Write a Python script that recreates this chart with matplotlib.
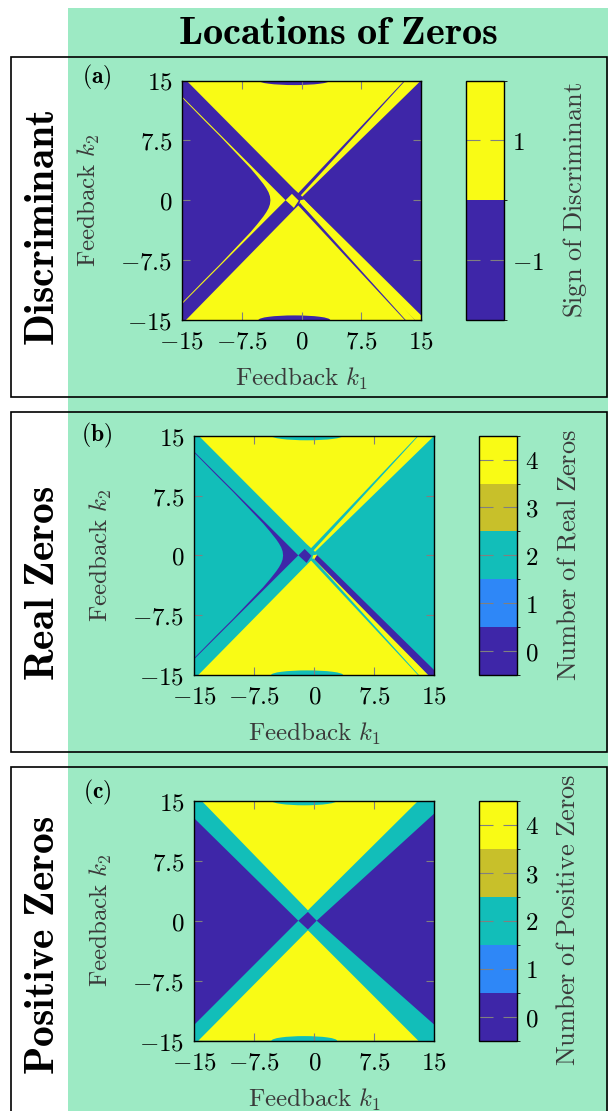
import matplotlib
matplotlib.use('Agg')
import matplotlib.pyplot as plt
import matplotlib.cm as cm
from matplotlib.colors import ListedColormap, BoundaryNorm
from matplotlib.patches import Polygon, Ellipse, Rectangle

plt.rcParams['mathtext.fontset'] = 'cm'

W, H = 608, 1111

# parula colours for 0..4 zeros, and for the sign of the discriminant
zero_colors = ['#3e26a8', '#2e87f7', '#12beb9', '#c8c02a', '#f9fb15']
sign_colors = ['#3e26a8', '#f9fb15']
green = '#9deac4'

ticks = [-15, -7.5, 0, 7.5, 15]
tick_labels = ['$-15$', '$-7.5$', '$0$', '$7.5$', '$15$']

# ---- number of real zeros (panel b); panel a shows the sign of the discriminant ----
real_background = 2
real_top = [(-14.45, 15), (15, 15), (0.1, 0.45), (-0.96, 1.42)]
real_bottom = [(-14.5, -15), (-0.96, -1.2), (-0.3, -0.55), (-0.15, 0.0), (0.3, 0.1), (14.25, -15)]
real_sliver_up = [(-0.5, 0.8), (12.92, 15), (13.05, 15), (-0.2, 0.5)]
real_sliver_low = [(-0.45, -0.6), (12.95, -15), (13.08, -15), (-0.15, -0.35)]
real_band = [(0.35, 0.05), (15, -14.4), (15, -15), (14.25, -15), (0.0, -0.5)]
# upper branch of the curved boundary on the left, from the edge to its vertex
hyper_upper = [(-15.0, 12.86), (-12.2, 10.0), (-10.2, 8.0), (-8.3, 6.0), (-6.4, 4.0),
               (-5.55, 3.0), (-4.76, 2.0), (-4.42, 1.5), (-4.14, 1.0), (-3.96, 0.5), (-3.9, 0.0)]
crescent_tip = [(-15, 13.0), (-2.0, 0.0), (-15, -13.0)]
real_crescent = crescent_tip + [(x, -y) for x, y in hyper_upper] + hyper_upper[::-1]
real_diamond = [(-2.0, 0.0), (-1.2, 0.8), (-0.35, -0.05), (-0.96, -0.95)]
real_regions = [(4, real_top), (4, real_bottom), (2, real_sliver_up), (2, real_sliver_low),
                (0, real_band), (0, real_crescent), (0, real_diamond)]
real_caps = [(2, (-0.9, 15), 9.0, 1.15), (2, (-0.9, -15), 9.0, 1.15)]

# sign of the discriminant for each number of real zeros
disc_sign = {0: 1, 2: -1, 4: 1}

# ---- number of positive zeros (panel c) ----
pos_background = 2
pos_left = [(-15, 12.8), (-2.0, 0.0), (-15, -13.0)]
pos_right = [(15, 13.4), (0.3, 0.0), (15, -13.0)]
pos_diamond = [(-2.0, 0.0), (-0.8, 1.1), (0.3, 0.0), (-0.8, -1.1)]
pos_top = [(-14.1, 15), (-0.8, 1.3), (13.0, 15)]
pos_bottom = [(-14.5, -15), (-0.8, -1.2), (13.0, -15)]
pos_regions = [(0, pos_left), (0, pos_right), (0, pos_diamond), (4, pos_top), (4, pos_bottom)]
pos_caps = [(2, (-1.25, 15), 8.2, 1.15), (2, (-1.25, -15), 8.2, 1.15)]


def px_axes(fig, l, t, r, b):
    return fig.add_axes([l / W, 1 - b / H, (r - l) / W, (b - t) / H])


def draw_map(ax, background, regions, caps, color_of):
    ax.add_patch(Rectangle((-15, -15), 30, 30, fc=color_of(background), ec='none'))
    for val, pts in regions:
        ax.add_patch(Polygon(pts, closed=True, fc=color_of(val), ec='none', lw=0))
    for val, centre, w, h in caps:
        ax.add_patch(Ellipse(centre, w, h, fc=color_of(val), ec='none'))
    ax.set_xlim(-15, 15)
    ax.set_ylim(-15, 15)
    ax.set_xticks(ticks, labels=tick_labels)
    ax.set_yticks(ticks, labels=tick_labels)
    ax.tick_params(direction='in', top=True, right=True, length=6, width=0.8,
                   color='#808080', labelsize=18, pad=7)
    for s in ax.spines.values():
        s.set_linewidth(1.0)
    ax.set_xlabel(r'$\mathrm{Feedback}\ k_1$', fontsize=18, color='#3a3a3a')
    ax.set_ylabel(r'$\mathrm{Feedback}\ k_2$', fontsize=18, color='#3a3a3a')
    ax.xaxis.label.set_verticalalignment('center')
    ax.yaxis.label.set_verticalalignment('center')
    ax.xaxis.set_label_coords(0.5, -0.245)
    ax.yaxis.set_label_coords(-0.39, 0.5)


def add_cbar(fig, cax, colors, bounds, cticks, clabels, title, tx, ty):
    cmap = ListedColormap(colors)
    norm = BoundaryNorm(bounds, cmap.N)
    cb = fig.colorbar(cm.ScalarMappable(norm=norm, cmap=cmap), cax=cax, ticks=cticks)
    cax.set_yticklabels(clabels)
    cax.tick_params(direction='in', left=True, right=True, length=10, width=0.8,
                    color='#808080', labelsize=18, pad=6)
    cb.outline.set_linewidth(1.0)
    fig.text(tx / W, 1 - ty / H, title, rotation=90, ha='center', va='center',
             fontsize=19, color='#3a3a3a')


fig = plt.figure(figsize=(W / 100, H / 100), dpi=100)

fig.add_artist(Rectangle((68 / W, 0), (W - 68) / W, 1 - 8 / H, transform=fig.transFigure,
                         fc=green, ec='none', zorder=-2))
for top, bot in [(57, 397), (412, 752), (767, 1120)]:
    fig.add_artist(Rectangle((11 / W, 1 - bot / H), (607 - 11) / W, (bot - top) / H,
                             transform=fig.transFigure, fill=False, ec='black', lw=1.2, zorder=5))

fig.text(338 / W, 1 - 33 / H, r'$\mathbf{Locations\ of\ Zeros}$', ha='center', va='center', fontsize=29)

# panel (a)
ax_a = px_axes(fig, 182, 80.5, 421, 320)
draw_map(ax_a, real_background, real_regions, real_caps,
         lambda v: sign_colors[0] if disc_sign[v] < 0 else sign_colors[1])
cax_a = px_axes(fig, 466, 80.5, 504, 320)
add_cbar(fig, cax_a, sign_colors, [-2, 0, 2], [-1, 1], ['$-1$', '$1$'],
         r'$\mathrm{Sign\ of\ Discriminant}$', 575, 200)

# panel (b)
ax_b = px_axes(fig, 194.3, 435.7, 434.3, 675)
draw_map(ax_b, real_background, real_regions, real_caps, lambda v: zero_colors[v])
cax_b = px_axes(fig, 479.3, 435.7, 516.7, 675)
add_cbar(fig, cax_b, zero_colors, [-0.5, 0.5, 1.5, 2.5, 3.5, 4.5], [0, 1, 2, 3, 4],
         ['$0$', '$1$', '$2$', '$3$', '$4$'], r'$\mathrm{Number\ of\ Real\ Zeros}$', 568, 555)

# panel (c)
ax_c = px_axes(fig, 194.3, 800.7, 434.3, 1040.7)
draw_map(ax_c, pos_background, pos_regions, pos_caps, lambda v: zero_colors[v])
cax_c = px_axes(fig, 479.3, 800.7, 516.7, 1040.7)
add_cbar(fig, cax_c, zero_colors, [-0.5, 0.5, 1.5, 2.5, 3.5, 4.5], [0, 1, 2, 3, 4],
         ['$0$', '$1$', '$2$', '$3$', '$4$'], r'$\mathrm{Number\ of\ Positive\ Zeros}$', 568, 920)

# row titles and panel letters
for label, yc in [('Discriminant', 228), ('Real\\ Zeros', 583), ('Positive\\ Zeros', 945)]:
    fig.text(42 / W, 1 - yc / H, r'$\mathbf{' + label + '}$', rotation=90,
             ha='center', va='center', fontsize=30)
for letter, xc, yc in [('(a)', 97, 77), ('(b)', 97, 435), ('(c)', 97, 792)]:
    fig.text(xc / W, 1 - yc / H, r'$\mathbf{' + letter + '}$', ha='center', va='center', fontsize=17)

fig.savefig('out.png', dpi=100)
